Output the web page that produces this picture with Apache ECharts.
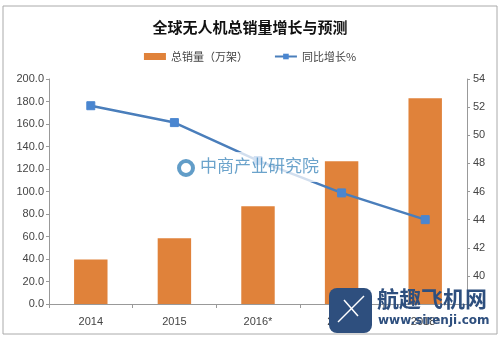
<!DOCTYPE html>
<html><head><meta charset="utf-8">
<script src="https://cdn.jsdelivr.net/npm/echarts@6/dist/echarts.min.js"></script>
<style>html,body{margin:0;padding:0;background:#fff}#c{width:500px;height:339px}</style>
</head><body><div id="c"></div>
<script>
const categories = ['2014', '2015', '2016*', '2017*', '2018*'];
const salesValues = [39.5, 58.5, 87, 127, 183];
const growthValues = [52.1, 50.9, 48.2, 45.9, 44.0];
const seriesNames = ['总销量（万架）', '同比增长%'];
const titleText = '全球无人机总销量增长与预测';

const chart = echarts.init(document.getElementById('c'));
chart.setOption({
  animation: false,
  backgroundColor: '#fff',
  title: {
    text: titleText, left: 'center', top: 15,
    textStyle: {fontSize: 15, fontWeight: 'bold', color: '#111', fontFamily: 'Noto Sans CJK SC'}
  },
  legend: {
    top: 46, left: 'center', itemGap: 26, itemWidth: 22, itemHeight: 7,
    textStyle: {fontSize: 11, color: '#444', fontFamily: 'Noto Sans CJK SC'},
    data: [
      {name: seriesNames[0], icon: 'rect'},
      {name: seriesNames[1]}
    ]
  },
  grid: {left: 49, right: 33, top: 79, bottom: 35},
  xAxis: {
    type: 'category', data: categories,
    axisLine: {lineStyle: {color: '#999'}},
    axisTick: {show: true, length: 4, lineStyle: {color: '#999'}},
    axisLabel: {color: '#444', fontSize: 11, margin: 12, fontFamily: 'Liberation Sans'}
  },
  yAxis: [
    {
      type: 'value', min: 0, max: 200, interval: 20,
      splitLine: {show: false},
      axisLine: {show: true, lineStyle: {color: '#999'}},
      axisTick: {show: true, length: 3, lineStyle: {color: '#999'}},
      axisLabel: {color: '#444', fontSize: 11, margin: 5, formatter: v => v.toFixed(1), fontFamily: 'Liberation Sans'}
    },
    {
      type: 'value', min: 38, max: 54, interval: 2,
      splitLine: {show: false},
      axisLine: {show: true, lineStyle: {color: '#999'}},
      axisTick: {show: true, length: 3, lineStyle: {color: '#999'}},
      axisLabel: {color: '#444', fontSize: 11, margin: 6, fontFamily: 'Liberation Sans',
        formatter: v => (v === 38 ? '' : String(v))}
    }
  ],
  series: [
    {
      name: seriesNames[0], type: 'bar', data: salesValues, barWidth: '40%',
      itemStyle: {color: '#E0823A'}
    },
    {
      name: seriesNames[1], type: 'line', yAxisIndex: 1, data: growthValues,
      symbol: 'rect', symbolSize: 8,
      lineStyle: {color: '#4A7EBB', width: 2.5},
      itemStyle: {color: '#4A86D0', borderColor: '#4A86D0'}
    }
  ],
  graphic: [
    {type: 'rect', shape: {x: 3, y: 6, width: 494, height: 328}, style: {fill: 'none', stroke: '#aaa', lineWidth: 1}, silent: true, z: -1},
    {type: 'rect', shape: {x: 172, y: 152, width: 152, height: 30}, z: 9, style: {fill: 'rgba(255,255,255,0.75)'}},
    {type: 'text', left: 200, top: 157, z: 10, style: {text: '中商产业研究院', fontSize: 17, fill: 'rgba(70,140,190,0.8)', fontFamily: 'Noto Sans CJK SC'}},
    {type: 'circle', shape: {cx: 186, cy: 168, r: 7}, z: 10, style: {fill: 'none', stroke: 'rgba(70,140,190,0.85)', lineWidth: 4}},
    {type: 'rect', shape: {x: 329, y: 288, width: 43, height: 45, r: 8}, z: 10, style: {fill: '#2E4F7E'}},
    {type: 'line', shape: {x1: 338, y1: 322, x2: 364, y2: 296}, z: 11, style: {stroke: '#fff', lineWidth: 1.5}},
    {type: 'line', shape: {x1: 344, y1: 300, x2: 358, y2: 316}, z: 11, style: {stroke: '#fff', lineWidth: 1.5}},
    {type: 'text', left: 377, top: 288, z: 10, style: {text: '航趣飞机网', fontSize: 22, fontWeight: 'bold', fill: '#2E4F7E', fontFamily: 'Noto Sans CJK SC'}},
    {type: 'text', left: 378, top: 315, z: 10, style: {text: 'www.sirenji.com', fontSize: 12, fontWeight: 'bold', fill: '#2E4F7E', fontFamily: 'DejaVu Sans'}}
  ]
});
</script></body></html>
